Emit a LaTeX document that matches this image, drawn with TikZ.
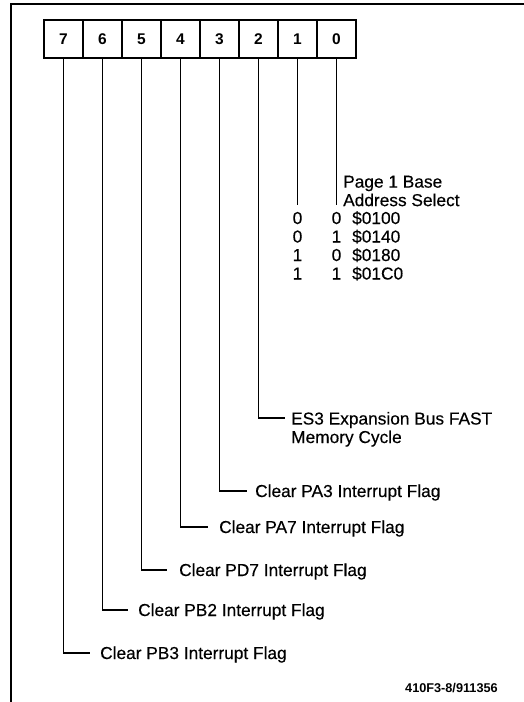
\documentclass[tikz,border=0pt]{standalone}
\usepackage{fontspec}
\setmainfont{Liberation Sans}
\newfontfamily\medsans[FakeBold=0.35]{Liberation Sans}
\begin{document}
\begin{tikzpicture}[x=1pt,y=-1pt,
  cell/.style={draw, line width=1.4pt, minimum width=39pt, minimum height=38pt, inner sep=0pt,
               font=\fontsize{15.5}{18}\selectfont\bfseries},
  lbl/.style={anchor=base west, inner sep=0pt, font=\medsans\fontsize{17.3}{20}\selectfont},
  lbl2/.style={anchor=north west, inner sep=0pt, align=left, font=\medsans\fontsize{17.3}{18.5}\selectfont},
  num/.style={anchor=base, inner sep=0pt, font=\medsans\fontsize{17.3}{20}\selectfont},
  wire/.style={line width=1.6pt},
  frame/.style={line width=1.1pt}]
\useasboundingbox (0,0) rectangle (524,702);
% frame
\coordinate (fb) at (11,702);
\coordinate (ftl) at (11,4);
\coordinate (ftr) at (524,4);
\draw[frame] (fb) -- (ftl) -- (ftr);
% register cells
\foreach \b [count=\i from 0] in {7,6,5,4,3,2,1,0}
  \node[cell] (b\b) at ({63.5+39*\i},39) {\b};
% bits 1,0: page base select
\coordinate (e1) at (297.5,205);
\coordinate (e0) at (336.5,205);
\draw[wire] (b1.south) -- (e1);
\draw[wire] (b0.south) -- (e0);
\node[lbl2] (t0) at (343,175.5) {Page 1 Base\\Address Select};
\foreach \r/\a/\c/\v in {0/0/0/\$0100, 1/0/1/\$0140, 2/1/0/\$0180, 3/1/1/\$01C0} {
  \node[num] (ra\r) at (297.5,{224+18.5*\r}) {\a};
  \node[num] (rb\r) at (336.5,{224+18.5*\r}) {\c};
  \node[lbl] (rv\r) at (352,{224+18.5*\r}) {\v};
}
% bit 2
\node[lbl2] (t2) at (291,411.8) {ES3 Expansion Bus FAST\\Memory Cycle};
\coordinate (h2) at (285,418);
\draw[wire] (b2.south) |- (h2);
% bits 3..7
\node[lbl] (t3) at (255,497) {Clear PA3 Interrupt Flag};
\node[lbl] (t4) at (219,533) {Clear PA7 Interrupt Flag};
\node[lbl] (t5) at (179,576) {Clear PD7 Interrupt Flag};
\node[lbl] (t6) at (138,616) {Clear PB2 Interrupt Flag};
\node[lbl] (t7) at (100,659) {Clear PB3 Interrupt Flag};
\coordinate (h3) at (247,491);
\coordinate (h4) at (208,527);
\coordinate (h5) at (167,570);
\coordinate (h6) at (128,610);
\coordinate (h7) at (90,653);
\foreach \k in {3,4,5,6,7}
  \draw[wire] (b\k.south) |- (h\k);
% figure id
\node[anchor=base west, inner sep=0pt, font=\fontsize{12.7}{14}\selectfont\bfseries] (fid) at (405,692.5) {410F3-8/911356};
\end{tikzpicture}
\end{document}
